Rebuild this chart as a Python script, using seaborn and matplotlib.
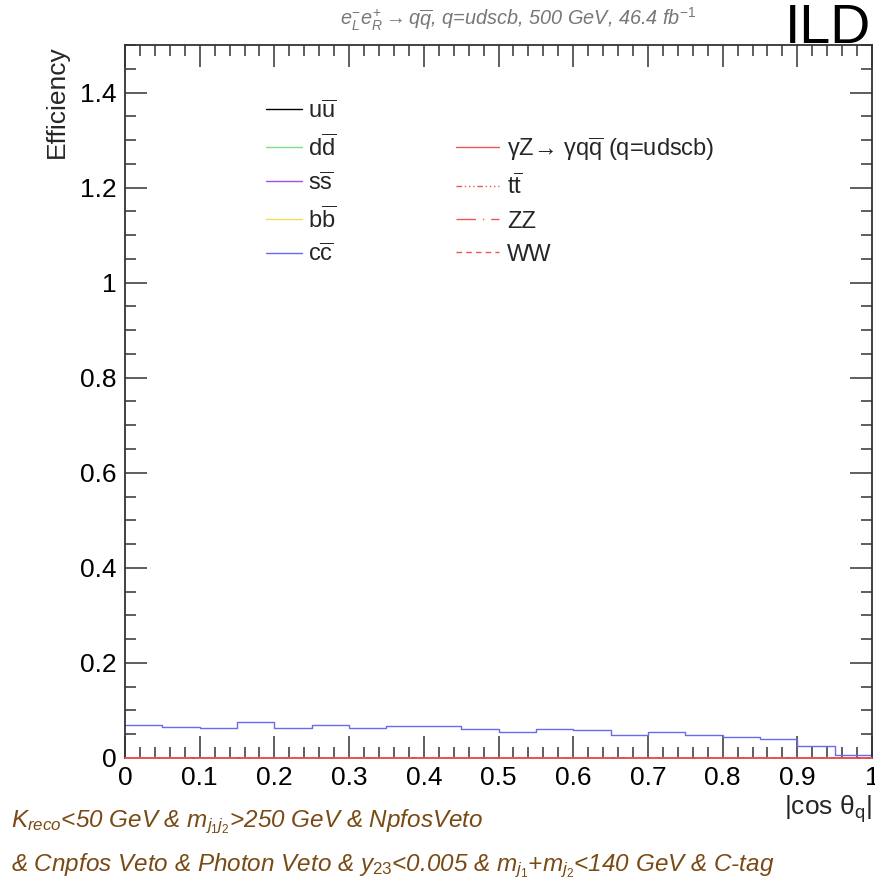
import matplotlib

matplotlib.use("Agg")
import matplotlib.pyplot as plt
import numpy as np
import pandas as pd
import seaborn as sns
from matplotlib.lines import Line2D
from matplotlib.ticker import MultipleLocator

sns.set_theme(style="ticks")
plt.rcParams["font.family"] = ["Liberation Sans", "DejaVu Sans"]
plt.rcParams["mathtext.fontset"] = "custom"
plt.rcParams["mathtext.rm"] = "Liberation Sans"
plt.rcParams["mathtext.it"] = "Liberation Sans:italic"
plt.rcParams["mathtext.bf"] = "Liberation Sans:bold"

# %%
bin_edges = np.round(np.arange(0, 1.0001, 0.05), 2)

# efficiency per |cos theta_q| bin, only c cbar is visibly non-zero
eff_uu = [0.0] * 20
eff_dd = [0.0] * 20
eff_ss = [0.0] * 20
eff_bb = [0.0] * 20
eff_cc = [0.069, 0.066, 0.0625, 0.076, 0.0625, 0.069, 0.063, 0.067, 0.067, 0.060,
          0.0547, 0.060, 0.058, 0.049, 0.0555, 0.049, 0.0435, 0.0407, 0.026, 0.0063]
eff_gz = [0.0] * 20
eff_tt = [0.0] * 20
eff_zz = [0.0] * 20
eff_ww = [0.0] * 20

quark_labels = [r"u$\overline{\mathrm{u}}$", r"d$\overline{\mathrm{d}}$", r"s$\overline{\mathrm{s}}$",
                r"b$\overline{\mathrm{b}}$", r"c$\overline{\mathrm{c}}$"]
bkg_labels = [r"γZ→ γq$\overline{\mathrm{q}}$ (q=udscb)", r"t$\overline{\mathrm{t}}$", "ZZ", "WW"]

# %%
quark_series = [eff_uu, eff_dd, eff_ss, eff_bb, eff_cc]
quark_colors = ["#000000", "#7fdf7f", "#a050f0", "#f0dc60", "#6a6af0"]
bkg_series = [eff_gz, eff_tt, eff_zz, eff_ww]
red = "#f05555"
bkg_styles = ["-", (0, (4, 2, 1, 2, 1, 2, 1, 2)), (0, (14, 5, 1, 5)), (0, (4, 3))]


def step_frame(vals):
    # histogram outline: repeat last bin value at the right edge
    return pd.DataFrame({"x": bin_edges, "y": list(vals) + [vals[-1]]})


fig = plt.figure(figsize=(8.75, 8.93), dpi=100)
ax = fig.add_axes([0.1429, 0.1512, 0.9966 - 0.1429, 0.9496 - 0.1512])

for vals, col in zip(quark_series, quark_colors):
    sns.lineplot(data=step_frame(vals), x="x", y="y", drawstyle="steps-post",
                 color=col, linewidth=1.0, ax=ax)
for vals, ls in zip(bkg_series, bkg_styles):
    sns.lineplot(data=step_frame(vals), x="x", y="y", drawstyle="steps-post",
                 color=red, linewidth=1.2, linestyle=ls, ax=ax, clip_on=False, zorder=4)

ax.set_xlim(0, 1)
ax.set_ylim(0, 1.5)
ax.xaxis.set_major_locator(MultipleLocator(0.1))
ax.xaxis.set_minor_locator(MultipleLocator(0.02))
ax.yaxis.set_major_locator(MultipleLocator(0.2))
ax.yaxis.set_minor_locator(MultipleLocator(0.05))
ax.xaxis.set_major_formatter(plt.FuncFormatter(lambda v, p: f"{v:g}"))
ax.yaxis.set_major_formatter(plt.FuncFormatter(lambda v, p: f"{v:g}"))
ax.tick_params(which="both", direction="in", top=True, right=True, colors="#333333",
               labelcolor="black", labelsize=19, width=1.1)
ax.tick_params(which="major", length=16, pad=6)
ax.tick_params(which="minor", length=8)
for sp in ax.spines.values():
    sp.set_linewidth(1.3)
    sp.set_color("#333333")
ax.spines["bottom"].set_zorder(2)

ax.set_xlabel(r"|cos θ$_\mathrm{q}$|", fontsize=19, loc="right", labelpad=2)
ax.set_ylabel("Efficiency", fontsize=19, loc="top", labelpad=8)

# legends
q_handles = [Line2D([], [], color=c, lw=1.0) for c in quark_colors]
leg1 = fig.legend(q_handles, quark_labels, loc="upper left", bbox_to_anchor=(0.28, 0.912),
                  frameon=False, fontsize=17, handlelength=1.5, handletextpad=0.25,
                  labelspacing=0.47)
b_handles = [Line2D([], [], color=red, lw=1.0, linestyle=s) for s in bkg_styles]
leg2 = fig.legend(b_handles, bkg_labels, loc="upper left", bbox_to_anchor=(0.497, 0.873),
                  frameon=False, fontsize=17, handlelength=1.8, handletextpad=0.35,
                  labelspacing=0.47)

fig.text(0.592, 0.978, r"$e^{-}_{L}e^{+}_{R} \rightarrow q\overline{q}$, q=udscb, 500 GeV, 46.4 fb$^{-1}$",
         ha="center", va="center", fontsize=14.3, style="italic", color="#777777")
fig.text(0.995, 0.968, "ILD", ha="right", va="center", fontsize=40, color="black")

brown = "#7a4a14"
fig.text(0.013, 0.080, r"$K_{reco}$<50 GeV & $m_{j_{1}j_{2}}$>250 GeV & NpfosVeto",
         fontsize=17.5, style="italic", color=brown, va="center")
fig.text(0.013, 0.030,
         r"& Cnpfos Veto & Photon Veto & $y_{23}$<0.005 & $m_{j_{1}}$+$m_{j_{2}}$<140 GeV & C-tag",
         fontsize=17.5, style="italic", color=brown, va="center")

fig.savefig("out.png", dpi=100)
